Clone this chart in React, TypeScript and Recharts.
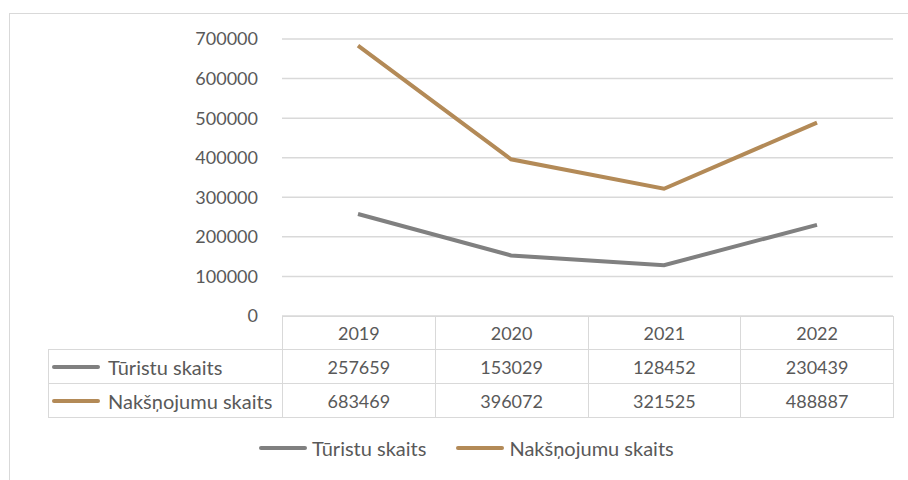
import { LineChart, Line, XAxis, YAxis, CartesianGrid } from "recharts";

const years = ["2019", "2020", "2021", "2022"];
const touristCounts = [257659, 153029, 128452, 230439];
const nightCounts = [683469, 396072, 321525, 488887];
const yTicks = [0, 100000, 200000, 300000, 400000, 500000, 600000, 700000];

const series = [
  { key: "turisti", name: "Tūristu skaits", color: "#808080", values: touristCounts },
  { key: "naksnojumi", name: "Nakšņojumu skaits", color: "#b38a57", values: nightCounts },
];

const data = years.map((year, i) => ({
  year,
  turisti: touristCounts[i],
  naksnojumi: nightCounts[i],
}));

const font = "Lato, 'Open Sans', sans-serif";
const border = "1px solid #d9d9d9";

const KeyLine = ({ color, gap }: { color: string; gap: number }) => (
  <span
    style={{
      display: "inline-block",
      width: 48,
      height: 4,
      borderRadius: 2,
      background: color,
      marginRight: gap,
      verticalAlign: "middle",
    }}
  />
);

const App = () => {
  return (
    <div
      style={{
        position: "absolute",
        left: 0,
        top: 0,
        width: 908,
        height: 480,
        background: "#fff",
        fontFamily: font,
        color: "#595959",
        overflow: "hidden",
      }}
    >
      {/* chart frame */}
      <div
        style={{
          position: "absolute",
          left: 9,
          top: 13,
          width: 920,
          height: 500,
          borderLeft: "1.5px solid #d9d9d9",
          borderTop: "1.5px solid #d9d9d9",
        }}
      />
      <div style={{ position: "absolute", left: 0, top: 0 }}>
        <LineChart
          width={908}
          height={330}
          data={data}
          margin={{ top: 39, right: 15, bottom: 14, left: 202 }}
        >
          <CartesianGrid vertical={false} stroke="#d9d9d9" strokeWidth={1.5} />
          <XAxis dataKey="year" hide padding={{ left: 76, right: 76 }} />
          <YAxis
            width={80}
            domain={[0, 700000]}
            ticks={yTicks}
            interval={0}
            axisLine={false}
            tickLine={false}
            tickSize={6}
            tickMargin={18}
            tick={{ fontSize: 18, fill: "#595959", fontFamily: font }}
          />
          {series.map((s) => (
            <Line
              key={s.key}
              dataKey={s.key}
              name={s.name}
              stroke={s.color}
              strokeWidth={4}
              dot={false}
              isAnimationActive={false}
            />
          ))}
        </LineChart>
      </div>

      {/* data table */}
      <table
        style={{
          position: "absolute",
          left: 48,
          top: 316,
          borderCollapse: "collapse",
          fontSize: 18,
          fontFamily: font,
          color: "#595959",
          tableLayout: "fixed",
        }}
      >
        <colgroup>
          <col style={{ width: 234 }} />
          {years.map((y) => (
            <col key={y} style={{ width: 152.75 }} />
          ))}
        </colgroup>
        <tbody>
          <tr style={{ height: 33 }}>
            <td style={{ padding: 0 }} />
            {years.map((y) => (
              <td key={y} style={{ border, textAlign: "center", padding: 0 }}>
                {y}
              </td>
            ))}
          </tr>
          {series.map((s) => (
            <tr key={s.key} style={{ height: 34 }}>
              <td style={{ border, padding: "0 0 0 3px", whiteSpace: "nowrap" }}>
                <KeyLine color={s.color} gap={8} />
                <span style={{ verticalAlign: "middle", fontSize: 20 }}>{s.name}</span>
              </td>
              {s.values.map((v, i) => (
                <td key={i} style={{ border, textAlign: "center", padding: 0 }}>
                  {v}
                </td>
              ))}
            </tr>
          ))}
        </tbody>
      </table>

      {/* legend */}
      <div
        style={{
          position: "absolute",
          left: 259,
          top: 436,
          display: "flex",
          gap: 30,
          fontSize: 20,
          whiteSpace: "nowrap",
        }}
      >
        {series.map((s) => (
          <div key={s.key} style={{ display: "flex", alignItems: "center" }}>
            <KeyLine color={s.color} gap={5} />
            <span>{s.name}</span>
          </div>
        ))}
      </div>
    </div>
  );
};

export default App;
